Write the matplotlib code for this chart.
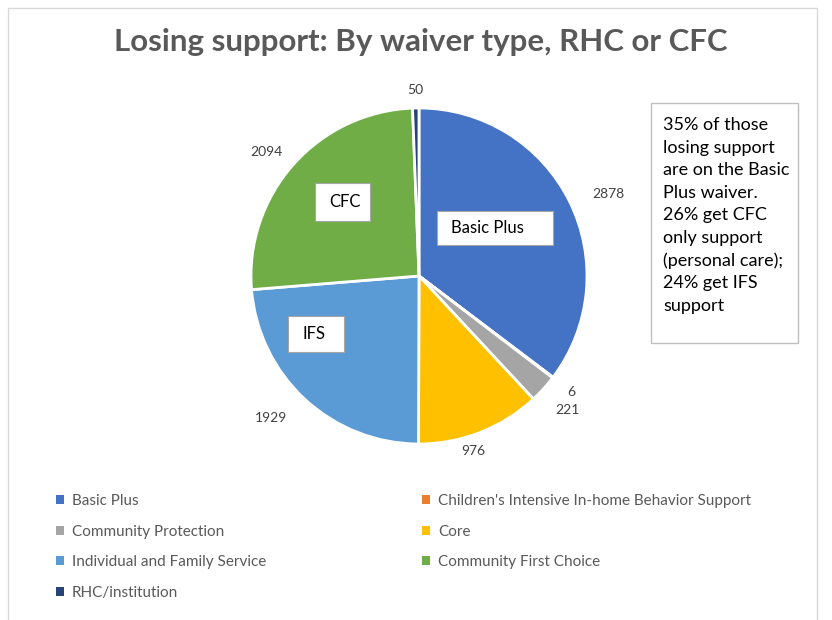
import numpy as np
import matplotlib.pyplot as plt
from matplotlib.patches import Rectangle

# waiver types and the number of people losing support in each
categories = ["Basic Plus", "Children's Intensive In-home Behavior Support",
              "Community Protection", "Core", "Individual and Family Service",
              "Community First Choice", "RHC/institution"]
counts = [2878, 6, 221, 976, 1929, 2094, 50]
colors = ["#4472C4", "#ED7D31", "#A5A5A5", "#FFC000", "#5B9BD5", "#70AD47", "#264478"]

# value label placement: distance in pie radii, angle nudge in degrees
label_dist = [1.23, 1.14, 1.19, 1.09, 1.22, 1.17, 1.11]
label_nudge = [-3, 0, 0, -4, -3.5, 2.5, 0]

# callout boxes (pixel coords: left, top, right, bottom)
callouts = [("Basic Plus", (437, 211, 553, 245)),
            ("CFC", (315, 183, 370, 221)),
            ("IFS", (288, 316, 344, 352))]

note = ("35% of those\nlosing support\nare on the Basic\nPlus waiver.\n"
        "26% get CFC\nonly support\n(personal care);\n24% get IFS\nsupport")

W, H = 832, 620
fig = plt.figure(figsize=(W / 100, H / 100), dpi=100)
plt.rcParams['font.family'] = ['Lato', 'DejaVu Sans']

# chart frame
fig.patches.append(Rectangle((8 / W, -0.05), 809 / W, 1.05 - 8 / H, transform=fig.transFigure,
                             fill=False, edgecolor="#D9D9D9", linewidth=1))

fig.text(421 / W, 1 - 42 / H, "Losing support: By waiver type, RHC or CFC",
         ha="center", va="center", fontsize=22.5, fontweight="bold", color="#595959")

cx, cy, r = 419, 276, 168
ax = fig.add_axes([(cx - r) / W, 1 - (cy + r) / H, 2 * r / W, 2 * r / H])
wedges, _ = ax.pie(counts, colors=colors, startangle=90, counterclock=False, radius=1,
                   wedgeprops=dict(edgecolor="white", linewidth=2))
ax.set_xlim(-1, 1)
ax.set_ylim(-1, 1)
ax.set_aspect("equal")
ax.axis("off")

for w, v, d, n in zip(wedges, counts, label_dist, label_nudge):
    ang = np.deg2rad((w.theta1 + w.theta2) / 2 + n)
    ax.text(d * np.cos(ang), d * np.sin(ang), str(v), ha="center", va="center",
            fontsize=10, color="#404040", clip_on=False)

for txt, (x0, y0, x1, y1) in callouts:
    fig.patches.append(Rectangle((x0 / W, 1 - y1 / H), (x1 - x0) / W, (y1 - y0) / H,
                                 transform=fig.transFigure, facecolor="white",
                                 edgecolor="#A6A6A6", linewidth=0.8, zorder=5))
    fig.text((x0 + 14) / W, 1 - (y0 + y1) / 2 / H, txt, ha="left", va="center",
             fontsize=12, color="black", zorder=6)

# side note box
fig.patches.append(Rectangle((651 / W, 1 - 343 / H), 147 / W, 240 / H, transform=fig.transFigure,
                             facecolor="white", edgecolor="#BFBFBF", linewidth=1))
fig.text(663 / W, 1 - 117 / H, note, ha="left", va="top", fontsize=13, color="black",
         linespacing=1.5)

# legend, filled row by row across two columns
order = [0, 2, 4, 6, 1, 3, 5]
leg = fig.legend([wedges[i] for i in order], [categories[i] for i in order],
                 loc="upper left", bbox_to_anchor=(42 / W, 1 - 480.5 / H), ncol=2, frameon=False,
                 fontsize=11, handlelength=0.55, handleheight=0.55, handletextpad=0.5,
                 labelspacing=1.08, columnspacing=10.2, labelcolor="#595959")
for h in leg.legend_handles:
    h.set_edgecolor("none")

fig.savefig("out.png", dpi=100)
